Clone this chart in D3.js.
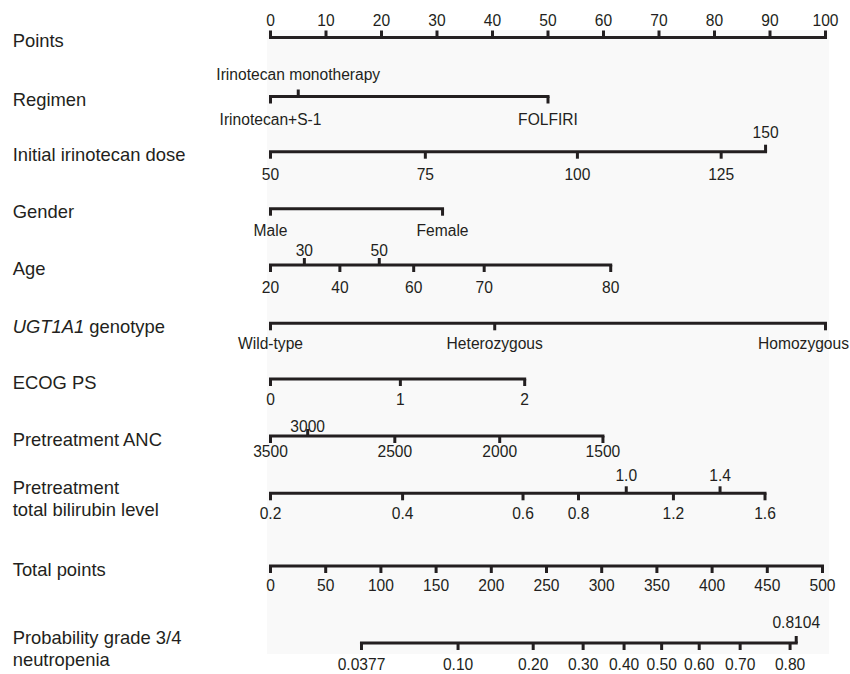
<!DOCTYPE html>
<html>
<head>
<meta charset="utf-8">
<script src="https://cdn.jsdelivr.net/npm/d3@7"></script>
<style>
  body { margin: 0; background: #fff; }
  svg { display: block; }
  text { font-family: "Liberation Sans", Arial, Helvetica, sans-serif; fill: #231f20; }
</style>
</head>
<body>
<svg id="chart"></svg>
<script>
// values (positions are in "points", 0-100)
var pointsValues = [0, 10, 20, 30, 40, 50, 60, 70, 80, 90, 100];

var regimenLabels = ["Irinotecan+S-1", "Irinotecan monotherapy", "FOLFIRI"];
var regimenPoints = [0, 5, 50];

var doseLabels = ["50", "75", "100", "125", "150"];
var dosePoints = [0, 27.9, 55.3, 81.2, 89.2];

var genderLabels = ["Male", "Female"];
var genderPoints = [0, 31.0];

var ageLabels = ["20", "30", "40", "50", "60", "70", "80"];
var agePoints = [0, 6.1, 12.5, 19.6, 25.8, 38.5, 61.3];

var ugtLabels = ["Wild-type", "Heterozygous", "Homozygous"];
var ugtPoints = [0, 40.4, 100];

var ecogLabels = ["0", "1", "2"];
var ecogPoints = [0, 23.4, 45.8];

var ancLabels = ["3500", "3000", "2500", "2000", "1500"];
var ancPoints = [0, 6.7, 22.4, 41.3, 59.9];

var biliLabels = ["0.2", "0.4", "0.6", "0.8", "1.0", "1.2", "1.4", "1.6"];
var biliPoints = [0, 23.8, 45.5, 55.5, 64.1, 72.6, 81.0, 89.1];

var totalValues = [0, 50, 100, 150, 200, 250, 300, 350, 400, 450, 500];

var probValues = [0.0377, 0.10, 0.20, 0.30, 0.40, 0.50, 0.60, 0.70, 0.80, 0.8104];
var probLabels = ["0.0377", "0.10", "0.20", "0.30", "0.40", "0.50", "0.60", "0.70", "0.80", "0.8104"];
var probTotalRange = [82.4, 476.2]; // total points at the two ends of the probability axis

var W = 850, H = 674;
var ink = "#231f20";

var svg = d3.select("#chart").attr("width", W).attr("height", H);

svg.append("rect")
  .attr("x", 267).attr("y", 30)
  .attr("width", 562).attr("height", 624)
  .attr("fill", "#f9f9f9");

var pointScale = d3.scaleLinear().domain([0, 100]).range([270, 825]);
var totalScale = d3.scaleLinear().domain([0, 500]).range([270, 822]);

function logit(p) { return Math.log(p / (1 - p)); }
var probScale = d3.scaleLinear()
  .domain([logit(probValues[0]), logit(probValues[probValues.length - 1])])
  .range([totalScale(probTotalRange[0]), totalScale(probTotalRange[1])]);

// row layout: y of the axis line, which labels go above, label padding
var rows = [
  { title: ["Points"], y: 37.5, scale: pointScale, values: pointsValues, labels: pointsValues.map(String),
    up: pointsValues.map(String), padUp: 5, padDown: 9 },
  { title: ["Regimen"], y: 96.5, scale: pointScale, values: regimenPoints, labels: regimenLabels,
    up: ["Irinotecan monotherapy"], padUp: 10, padDown: 10 },
  { title: ["Initial irinotecan dose"], y: 151.7, scale: pointScale, values: dosePoints, labels: doseLabels,
    up: ["150"], padUp: 7, padDown: 10 },
  { title: ["Gender"], y: 208.7, scale: pointScale, values: genderPoints, labels: genderLabels,
    up: [], padUp: 5, padDown: 9 },
  { title: ["Age"], y: 265, scale: pointScale, values: agePoints, labels: ageLabels,
    up: ["30", "50"], padUp: 2, padDown: 10 },
  { title: ["UGT1A1 genotype"], italic: "UGT1A1", y: 323.3, scale: pointScale, values: ugtPoints, labels: ugtLabels,
    up: [], padUp: 5, padDown: 8 },
  { title: ["ECOG PS"], y: 379, scale: pointScale, values: ecogPoints, labels: ecogLabels,
    up: [], padUp: 5, padDown: 8 },
  { title: ["Pretreatment ANC"], y: 436, scale: pointScale, values: ancPoints, labels: ancLabels,
    up: ["3000"], padUp: -3, padDown: 3 },
  { title: ["Pretreatment", "total bilirubin level"], y: 493.3, scale: pointScale, values: biliPoints, labels: biliLabels,
    up: ["1.0", "1.4"], padUp: 5, padDown: 8 },
  { title: ["Total points"], y: 566, scale: totalScale, values: totalValues, labels: totalValues.map(String),
    up: [], padUp: 5, padDown: 7 },
  { title: ["Probability grade 3/4", "neutropenia"], y: 643, scale: probScale, values: probValues.map(logit), labels: probLabels,
    up: ["0.8104"], padUp: 8, padDown: 8.5 }
];

rows.forEach(drawRow);

function drawRow(r) {
  var g = svg.append("g").attr("transform", "translate(0," + r.y + ")");
  var labelOf = new Map(r.values.map(function(v, i) { return [v, r.labels[i]]; }));
  var upVals = r.values.filter(function(v) { return r.up.indexOf(labelOf.get(v)) >= 0; });
  var downVals = r.values.filter(function(v) { return r.up.indexOf(labelOf.get(v)) < 0; });

  // main line
  g.append("line")
    .attr("x1", r.scale(d3.min(r.values)) + 0.5)
    .attr("x2", r.scale(d3.max(r.values)) + 0.5)
    .attr("stroke", ink)
    .attr("stroke-width", 3)
    .attr("stroke-linecap", "square");

  var fmt = function(d) { return labelOf.get(d); };
  if (upVals.length) {
    g.append("g").call(d3.axisTop(r.scale).tickValues(upVals).tickFormat(fmt).tickSize(7).tickPadding(r.padUp))
      .call(styleAxis);
  }
  if (downVals.length) {
    g.append("g").call(d3.axisBottom(r.scale).tickValues(downVals).tickFormat(fmt).tickSize(7).tickPadding(r.padDown))
      .call(styleAxis);
  }

  // keep labels inside the page
  g.selectAll(".tick text").each(function() {
    var bb = this.getBBox();
    var tr = d3.select(this.parentNode).attr("transform");
    var tx = +/translate\(([-\d.]+)/.exec(tr)[1];
    if (tx + bb.x + bb.width > W - 1) {
      d3.select(this).attr("text-anchor", "end").attr("x", W - 1 - tx);
    }
  });

  // row title
  var t = svg.append("text")
    .attr("x", 12.7)
    .attr("font-size", "18.4px");
  var baseY = r.title.length > 1 ? r.y + 1 : r.y + 9.5;
  r.title.forEach(function(line, i) {
    var ts = t.append("tspan").attr("x", 12.7).attr("y", baseY + i * 22);
    if (r.italic && line.indexOf(r.italic) === 0) {
      ts.append("tspan").attr("font-style", "italic").text(r.italic);
      ts.append("tspan").text(line.slice(r.italic.length));
    } else {
      ts.text(line);
    }
  });
}

function styleAxis(g) {
  g.attr("font-family", null).attr("font-size", null);
  g.select(".domain").remove();
  g.selectAll(".tick line").attr("stroke", ink).attr("stroke-width", 3);
  g.selectAll(".tick text").attr("fill", ink).style("font-size", "15.6px");
}
</script>
</body>
</html>
